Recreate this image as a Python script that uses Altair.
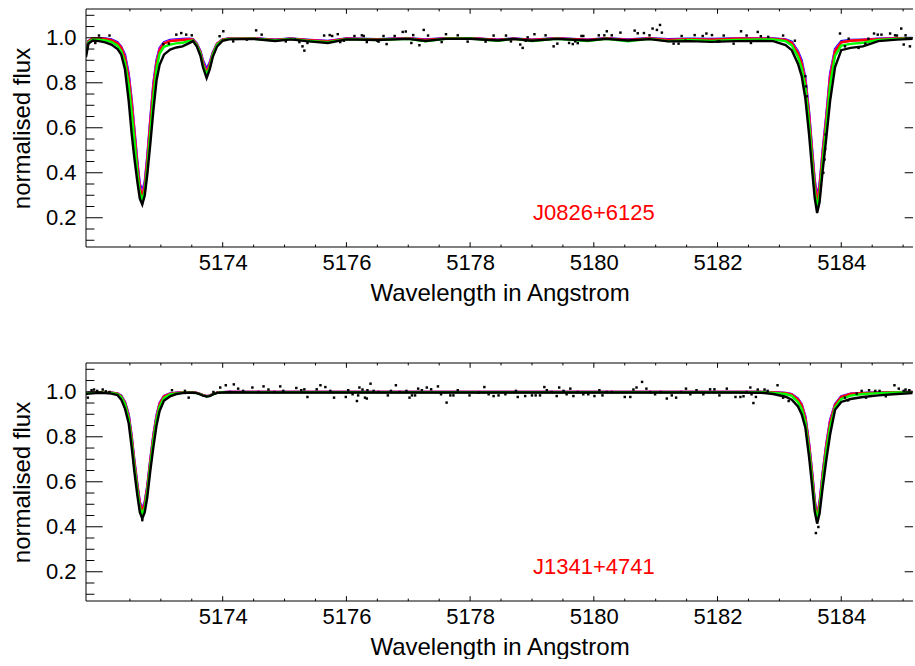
import altair as alt
import pandas as pd

FONT = "Liberation Sans"

# ---------------- data ----------------
WAVE = [5171.79, 5171.83, 5171.90, 5172.00, 5172.10, 5172.20, 5172.30, 5172.36, 5172.42, 5172.48,
        5172.53, 5172.57, 5172.62, 5172.66, 5172.70, 5172.74, 5172.78, 5172.83, 5172.88, 5172.93,
        5172.98, 5173.05, 5173.15, 5173.25, 5173.35, 5173.45, 5173.52, 5173.58, 5173.64, 5173.68,
        5173.74, 5173.79, 5173.84, 5173.91, 5174.00, 5174.10,
        5174.50, 5174.85, 5175.10, 5175.35, 5175.70, 5176.00, 5176.50, 5177.00, 5177.28, 5177.60,
        5178.00, 5178.45, 5178.70, 5179.00, 5179.40, 5179.90, 5180.20, 5180.55, 5180.90, 5181.20,
        5181.55, 5181.90, 5182.30, 5182.70,
        5182.90, 5183.10, 5183.20, 5183.30, 5183.36, 5183.42, 5183.48, 5183.53, 5183.57, 5183.61,
        5183.65, 5183.70, 5183.76, 5183.82, 5183.90, 5184.00, 5184.15, 5184.35, 5184.60, 5184.90,
        5185.15]

# --- J0826+6125 (top panel) model spectra ---
TOP_BLUE = [0.930, 0.985, 0.998, 0.998, 0.997, 0.993, 0.980, 0.960, 0.925, 0.840,
            0.720, 0.600, 0.450, 0.350, 0.318, 0.360, 0.470, 0.640, 0.800, 0.900,
            0.955, 0.980, 0.990, 0.993, 0.995, 0.996, 0.994, 0.975, 0.940, 0.900,
            0.861, 0.890, 0.935, 0.975, 0.993, 0.997,
            0.998, 0.992, 0.997, 0.992, 0.986, 0.997, 0.994, 0.998, 0.993, 0.998,
            0.998, 0.992, 0.997, 0.992, 0.998, 0.992, 0.998, 0.993, 0.998, 0.994,
            0.996, 0.995, 0.997, 0.998,
            0.997, 0.993, 0.982, 0.940, 0.900, 0.820, 0.670, 0.500, 0.370, 0.290,
            0.350, 0.500, 0.660, 0.840, 0.950, 0.985, 0.990, 0.992, 0.996, 0.998,
            0.999]
TOP_RED = [0.930, 0.985, 0.997, 0.997, 0.995, 0.990, 0.975, 0.955, 0.910, 0.820,
           0.700, 0.580, 0.430, 0.330, 0.296, 0.340, 0.450, 0.620, 0.780, 0.885,
           0.945, 0.975, 0.985, 0.988, 0.990, 0.993, 0.992, 0.972, 0.935, 0.890,
           0.845, 0.880, 0.930, 0.973, 0.992, 0.996,
           0.997, 0.990, 0.996, 0.990, 0.984, 0.996, 0.993, 0.997, 0.990, 0.997,
           0.998, 0.990, 0.996, 0.990, 0.997, 0.990, 0.997, 0.990, 0.997, 0.990,
           0.994, 0.992, 0.996, 0.996,
           0.995, 0.990, 0.977, 0.930, 0.885, 0.800, 0.650, 0.480, 0.350, 0.266,
           0.330, 0.480, 0.640, 0.820, 0.940, 0.980, 0.987, 0.990, 0.994, 0.997,
           0.998]
TOP_MAGENTA = [0.930, 0.985, 0.997, 0.997, 0.995, 0.990, 0.977, 0.957, 0.915, 0.830,
               0.710, 0.590, 0.440, 0.340, 0.307, 0.350, 0.460, 0.630, 0.790, 0.890,
               0.950, 0.977, 0.987, 0.990, 0.992, 0.994, 0.992, 0.973, 0.937, 0.895,
               0.850, 0.885, 0.932, 0.974, 0.992, 0.996,
               0.997, 0.990, 0.996, 0.990, 0.985, 0.996, 0.993, 0.997, 0.990, 0.997,
               0.998, 0.990, 0.996, 0.990, 0.997, 0.990, 0.997, 0.990, 0.997, 0.990,
               0.994, 0.992, 0.996, 0.997,
               0.996, 0.990, 0.978, 0.935, 0.890, 0.810, 0.660, 0.490, 0.360, 0.278,
               0.340, 0.490, 0.650, 0.830, 0.945, 0.980, 0.988, 0.990, 0.995, 0.997,
               0.998]
TOP_GREEN = [0.925, 0.980, 0.993, 0.992, 0.988, 0.982, 0.965, 0.940, 0.890, 0.790,
             0.660, 0.550, 0.400, 0.310, 0.278, 0.320, 0.420, 0.580, 0.740, 0.860,
             0.930, 0.960, 0.970, 0.975, 0.978, 0.985, 0.988, 0.968, 0.930, 0.880,
             0.835, 0.870, 0.925, 0.970, 0.990, 0.995,
             0.996, 0.988, 0.995, 0.987, 0.980, 0.994, 0.990, 0.996, 0.985, 0.996,
             0.997, 0.987, 0.995, 0.986, 0.996, 0.985, 0.996, 0.985, 0.995, 0.985,
             0.990, 0.986, 0.990, 0.993,
             0.993, 0.985, 0.967, 0.915, 0.865, 0.780, 0.620, 0.450, 0.320, 0.244,
             0.300, 0.450, 0.610, 0.790, 0.920, 0.965, 0.973, 0.978, 0.990, 0.995,
             0.997]
TOP_BLACK = [0.915, 0.975, 0.988, 0.985, 0.980, 0.970, 0.950, 0.925, 0.860, 0.720,
             0.570, 0.470, 0.360, 0.285, 0.259, 0.300, 0.390, 0.530, 0.680, 0.810,
             0.880, 0.925, 0.948, 0.957, 0.962, 0.975, 0.985, 0.962, 0.920, 0.870,
             0.821, 0.860, 0.915, 0.962, 0.987, 0.993,
             0.995, 0.986, 0.993, 0.985, 0.977, 0.993, 0.990, 0.995, 0.986, 0.995,
             0.996, 0.988, 0.995, 0.987, 0.995, 0.988, 0.995, 0.988, 0.994, 0.984,
             0.985, 0.982, 0.985, 0.986,
             0.985, 0.968, 0.945, 0.885, 0.830, 0.730, 0.570, 0.410, 0.290, 0.221,
             0.270, 0.410, 0.560, 0.720, 0.870, 0.945, 0.955, 0.962, 0.985, 0.992,
             0.995]

# --- J1341+4741 (bottom panel) model spectra ---
BOT_BLUE = [0.993, 0.995, 0.996, 0.997, 0.997, 0.996, 0.993, 0.983, 0.955, 0.900,
            0.800, 0.700, 0.590, 0.510, 0.480, 0.510, 0.580, 0.700, 0.810, 0.895,
            0.950, 0.982, 0.993, 0.996, 0.997, 0.998, 0.997, 0.995, 0.990, 0.985,
            0.981, 0.983, 0.990, 0.996, 0.998, 0.999,
            0.999, 0.999, 0.999, 0.999, 0.999, 0.999, 0.999, 0.999, 0.999, 0.999,
            0.999, 0.999, 0.999, 0.999, 0.999, 0.999, 0.999, 0.999, 0.999, 0.999,
            0.999, 0.999, 0.999, 0.999,
            0.998, 0.995, 0.990, 0.970, 0.945, 0.890, 0.770, 0.640, 0.520, 0.445,
            0.510, 0.640, 0.770, 0.875, 0.945, 0.980, 0.992, 0.995, 0.997, 0.998,
            0.999]
BOT_RED = [0.993, 0.995, 0.996, 0.997, 0.997, 0.996, 0.992, 0.980, 0.950, 0.890,
           0.790, 0.690, 0.580, 0.500, 0.470, 0.500, 0.570, 0.690, 0.800, 0.885,
           0.945, 0.979, 0.991, 0.995, 0.997, 0.997, 0.997, 0.995, 0.990, 0.985,
           0.981, 0.983, 0.990, 0.996, 0.998, 0.999,
           0.999, 0.999, 0.999, 0.999, 0.999, 0.999, 0.999, 0.999, 0.999, 0.999,
           0.999, 0.999, 0.999, 0.999, 0.999, 0.999, 0.999, 0.999, 0.999, 0.999,
           0.999, 0.999, 0.999, 0.999,
           0.997, 0.994, 0.988, 0.965, 0.940, 0.880, 0.760, 0.630, 0.510, 0.440,
           0.500, 0.630, 0.760, 0.865, 0.940, 0.977, 0.990, 0.994, 0.996, 0.998,
           0.999]
BOT_MAGENTA = [0.993, 0.995, 0.996, 0.997, 0.997, 0.996, 0.992, 0.981, 0.952, 0.895,
               0.795, 0.695, 0.585, 0.505, 0.475, 0.505, 0.575, 0.695, 0.805, 0.890,
               0.947, 0.980, 0.992, 0.995, 0.997, 0.997, 0.997, 0.995, 0.990, 0.985,
               0.981, 0.983, 0.990, 0.996, 0.998, 0.999,
               0.999, 0.999, 0.999, 0.999, 0.999, 0.999, 0.999, 0.999, 0.999, 0.999,
               0.999, 0.999, 0.999, 0.999, 0.999, 0.999, 0.999, 0.999, 0.999, 0.999,
               0.999, 0.999, 0.999, 0.999,
               0.997, 0.994, 0.989, 0.967, 0.942, 0.885, 0.765, 0.635, 0.515, 0.442,
               0.505, 0.635, 0.765, 0.870, 0.942, 0.978, 0.990, 0.994, 0.996, 0.998,
               0.999]
BOT_GREEN = [0.992, 0.994, 0.995, 0.996, 0.996, 0.995, 0.990, 0.977, 0.945, 0.880,
             0.775, 0.675, 0.565, 0.485, 0.455, 0.485, 0.555, 0.675, 0.785, 0.875,
             0.935, 0.972, 0.988, 0.993, 0.996, 0.996, 0.996, 0.994, 0.989, 0.984,
             0.980, 0.982, 0.989, 0.995, 0.998, 0.998,
             0.998, 0.998, 0.998, 0.998, 0.998, 0.998, 0.998, 0.998, 0.998, 0.998,
             0.998, 0.998, 0.998, 0.998, 0.998, 0.998, 0.998, 0.998, 0.998, 0.998,
             0.998, 0.998, 0.998, 0.998,
             0.995, 0.990, 0.982, 0.955, 0.925, 0.865, 0.740, 0.610, 0.495, 0.430,
             0.485, 0.610, 0.740, 0.845, 0.930, 0.968, 0.983, 0.990, 0.994, 0.997,
             0.998]
BOT_BLACK = [0.990, 0.992, 0.993, 0.995, 0.994, 0.992, 0.985, 0.965, 0.925, 0.860,
             0.750, 0.650, 0.540, 0.465, 0.436, 0.465, 0.530, 0.650, 0.755, 0.850,
             0.915, 0.960, 0.980, 0.990, 0.994, 0.996, 0.996, 0.994, 0.988, 0.983,
             0.979, 0.981, 0.988, 0.995, 0.997, 0.998,
             0.997, 0.997, 0.997, 0.997, 0.997, 0.997, 0.997, 0.997, 0.997, 0.997,
             0.997, 0.997, 0.997, 0.997, 0.997, 0.997, 0.997, 0.997, 0.997, 0.997,
             0.997, 0.997, 0.997, 0.996,
             0.990, 0.978, 0.965, 0.935, 0.900, 0.840, 0.710, 0.580, 0.470, 0.414,
             0.460, 0.575, 0.700, 0.810, 0.920, 0.955, 0.968, 0.977, 0.984, 0.990,
             0.994]

# --- observed spectra (dots) ---
TOP_OBS_W = [5171.94, 5172.00, 5172.17, 5173.04, 5173.13, 5173.25, 5173.33, 5173.41, 5173.50, 5173.95,
             5174.01, 5174.17, 5174.39, 5174.54, 5174.63, 5175.02, 5175.17, 5175.24, 5175.29, 5175.32,
             5175.37, 5175.64, 5175.73, 5175.77, 5175.86, 5175.90, 5175.96, 5176.13, 5176.25, 5176.28,
             5176.33, 5176.50, 5176.52, 5176.60, 5176.65, 5176.78, 5176.91, 5176.96, 5177.05, 5177.08,
             5177.18, 5177.25, 5177.32, 5177.54, 5177.61, 5177.80, 5177.96, 5178.25, 5178.38, 5178.58,
             5178.66, 5178.81, 5178.85, 5178.90, 5178.93, 5179.04, 5179.22, 5179.35, 5179.41, 5179.60,
             5179.66, 5179.70, 5179.74, 5179.80, 5179.83, 5180.08, 5180.17, 5180.21, 5180.29, 5180.43,
             5180.66, 5180.71, 5180.81, 5180.90, 5180.95, 5181.02, 5181.07, 5181.10, 5181.29, 5181.37,
             5181.42, 5181.48, 5181.63, 5181.76, 5181.82, 5181.91, 5182.00, 5182.03, 5182.10, 5182.26,
             5182.38, 5182.47, 5182.54, 5182.65, 5182.70, 5182.82, 5183.06, 5183.25, 5183.42, 5183.43,
             5183.44, 5183.71, 5183.73, 5183.74, 5183.75, 5183.98, 5184.06, 5184.12, 5184.28, 5184.39,
             5184.44, 5184.53, 5184.59, 5184.65, 5184.79, 5184.87, 5184.90, 5184.97, 5185.01, 5185.04,
             5185.11]
TOP_OBS_F = [0.977, 1.010, 1.010, 0.972, 0.974, 1.014, 1.021, 1.014, 1.011, 1.007,
             1.029, 0.984, 0.992, 1.033, 1.014, 0.984, 0.992, 0.981, 0.962, 0.943,
             0.977, 1.010, 1.012, 1.008, 1.016, 0.981, 0.987, 1.008, 1.011, 1.008,
             0.981, 0.987, 0.983, 1.008, 0.972, 1.008, 1.026, 1.028, 0.977, 1.012,
             0.967, 1.035, 1.010, 0.981, 1.016, 1.011, 0.983, 0.983, 1.010, 1.010,
             0.984, 0.970, 0.955, 0.987, 1.002, 1.016, 1.011, 0.962, 0.974, 0.977,
             0.972, 0.984, 0.976, 1.008, 1.008, 1.011, 1.011, 1.029, 1.011, 1.023,
             1.032, 1.020, 1.021, 1.011, 1.041, 1.035, 1.057, 1.023, 0.974, 0.974,
             1.008, 0.987, 1.012, 1.008, 1.019, 1.012, 0.983, 0.984, 1.010, 0.974,
             1.029, 1.010, 0.977, 1.026, 1.007, 1.004, 1.010, 0.987, 0.829, 0.784,
             0.740, 0.400, 0.459, 0.506, 0.570, 1.019, 0.962, 0.996, 0.955, 0.974,
             0.996, 1.019, 1.014, 1.014, 1.019, 1.011, 1.010, 1.041, 0.970, 1.011,
             0.962]

BOT_OBS_W = [5171.82, 5171.88, 5171.92, 5171.97, 5172.06, 5172.11, 5172.17, 5172.70, 5173.18, 5173.39,
             5173.45, 5173.85, 5173.96, 5174.05, 5174.12, 5174.18, 5174.25, 5174.33, 5174.48, 5174.58,
             5174.66, 5174.74, 5174.84, 5174.93, 5174.98, 5175.19, 5175.27, 5175.32, 5175.37, 5175.52,
             5175.58, 5175.66, 5175.74, 5175.80, 5175.99, 5176.03, 5176.10, 5176.17, 5176.19, 5176.21,
             5176.26, 5176.30, 5176.33, 5176.34, 5176.39, 5176.44, 5176.52, 5176.67, 5176.72, 5176.80,
             5176.86, 5176.97, 5177.02, 5177.06, 5177.11, 5177.16, 5177.22, 5177.30, 5177.37, 5177.48,
             5177.53, 5177.62, 5177.68, 5177.73, 5177.80, 5177.99, 5178.14, 5178.23, 5178.30, 5178.38,
             5178.46, 5178.57, 5178.74, 5178.77, 5178.89, 5179.00, 5179.06, 5179.13, 5179.20, 5179.24,
             5179.32, 5179.40, 5179.44, 5179.51, 5179.56, 5179.62, 5179.67, 5179.74, 5179.83, 5179.91,
             5180.01, 5180.09, 5180.14, 5180.21, 5180.29, 5180.50, 5180.59, 5180.64, 5180.69, 5180.78,
             5180.85, 5180.91, 5180.99, 5181.08, 5181.18, 5181.26, 5181.33, 5181.41, 5181.49, 5181.56,
             5181.66, 5181.77, 5181.88, 5181.95, 5182.03, 5182.15, 5182.29, 5182.37, 5182.42, 5182.47,
             5182.53, 5182.55, 5182.58, 5182.62, 5182.65, 5182.76, 5182.81, 5182.97, 5183.06, 5183.15,
             5183.59, 5183.63, 5184.06, 5184.11, 5184.25, 5184.33, 5184.40, 5184.45, 5184.55, 5184.62,
             5184.72, 5184.86, 5184.93, 5185.01, 5185.04, 5185.10]
BOT_OBS_F = [0.974, 1.007, 1.010, 1.004, 1.010, 1.002, 0.999, 0.430, 1.007, 1.004,
             0.974, 0.999, 1.019, 1.029, 0.999, 1.033, 1.014, 1.004, 1.019, 0.999,
             1.024, 1.010, 0.999, 1.024, 1.004, 1.017, 1.007, 1.011, 0.977, 1.011,
             1.029, 1.021, 1.004, 0.974, 0.977, 1.007, 0.989, 0.959, 0.984, 1.019,
             1.010, 0.974, 0.970, 1.007, 1.036, 1.004, 0.999, 0.984, 1.004, 1.029,
             0.999, 1.004, 0.974, 0.984, 0.984, 1.014, 1.007, 1.019, 1.011, 1.024,
             0.989, 0.952, 0.984, 0.984, 1.007, 0.984, 0.996, 1.021, 0.989, 0.981,
             0.984, 0.989, 1.004, 0.977, 0.981, 0.984, 0.984, 0.984, 1.021, 1.007,
             0.999, 0.981, 1.019, 1.004, 0.989, 1.014, 0.981, 0.999, 0.989, 0.989,
             0.981, 1.007, 0.984, 0.999, 0.999, 0.977, 0.977, 1.010, 1.019, 1.044,
             1.014, 0.999, 0.989, 0.999, 0.970, 0.984, 0.974, 0.999, 1.014, 0.989,
             1.007, 0.989, 1.011, 1.011, 0.984, 1.014, 0.977, 0.977, 0.980, 0.999,
             1.019, 0.989, 0.950, 0.977, 1.010, 1.010, 1.004, 1.029, 0.974, 0.959,
             0.372, 0.399, 0.974, 0.962, 0.992, 1.004, 0.974, 1.007, 1.004, 1.004,
             0.980, 1.029, 1.014, 1.004, 1.010, 1.007]

LABELS = ["J0826+6125", "J1341+4741"]
LABEL_WAVE = [5180.0, 5180.0]
LABEL_FLUX = [0.22, 0.22]

X_MAJOR = [5174, 5176, 5178, 5180, 5182, 5184]
X_MINOR = [5172.5, 5173.0, 5173.5, 5174.5, 5175.0, 5175.5, 5176.5, 5177.0, 5177.5,
           5178.5, 5179.0, 5179.5, 5180.5, 5181.0, 5181.5, 5182.5, 5183.0, 5183.5,
           5184.5, 5185.0]
Y_MAJOR = [0.2, 0.4, 0.6, 0.8, 1.0]
Y_MINOR = [0.10, 0.15, 0.25, 0.30, 0.35, 0.45, 0.50, 0.55, 0.65, 0.70, 0.75,
           0.85, 0.90, 0.95, 1.05, 1.10]

MODEL_ORDER = ["blue", "magenta", "red", "green", "black"]
MODEL_COLORS = {"blue": "#0000ff", "magenta": "#ff00ff", "red": "#ff0000",
                "green": "#00ff00", "black": "#000000"}

TOP_MODELS = {"blue": TOP_BLUE, "red": TOP_RED, "magenta": TOP_MAGENTA,
              "green": TOP_GREEN, "black": TOP_BLACK}
BOT_MODELS = {"blue": BOT_BLUE, "red": BOT_RED, "magenta": BOT_MAGENTA,
              "green": BOT_GREEN, "black": BOT_BLACK}

# ---------------- layout ----------------
XDOM = [5171.79, 5185.16]
YDOM = [0.07, 1.128]
W, H = 827, 238
YTICK_MAJ, YTICK_MIN = 16.7, 8.4
XTICK_MAJ, XTICK_MIN = 4.8, 2.4

XS = alt.Scale(domain=XDOM, nice=False, zero=False)
YS = alt.Scale(domain=YDOM, nice=False, zero=False)
XAXIS = alt.Axis(values=X_MAJOR, format="d", ticks=False, domain=False, grid=False,
                 labelFont=FONT, labelFontSize=22, labelColor="black", labelPadding=5,
                 title="Wavelength in Angstrom", titleFont=FONT, titleFontSize=24,
                 titleFontWeight="normal", titleColor="black", titlePadding=8)
YAXIS = alt.Axis(values=Y_MAJOR, format=".1f", ticks=False, domain=False, grid=False,
                 labelFont=FONT, labelFontSize=22, labelColor="black", labelPadding=10,
                 title="normalised flux", titleFont=FONT, titleFontSize=24,
                 titleFontWeight="normal", titleColor="black", titlePadding=11)


def xenc():
    return alt.X("wave:Q", scale=XS, axis=XAXIS)


def yenc():
    return alt.Y("flux:Q", scale=YS, axis=YAXIS)


def panel(models, obs_w, obs_f, idx):
    layers = []
    for name in MODEL_ORDER:
        df = pd.DataFrame({"wave": WAVE, "flux": models[name]})
        layers.append(
            alt.Chart(df).mark_line(color=MODEL_COLORS[name], strokeWidth=2.4, clip=True)
            .encode(x=xenc(), y=yenc())
        )
    obs = pd.DataFrame({"wave": obs_w, "flux": obs_f})
    layers.append(
        alt.Chart(obs).mark_square(size=6, color="black", opacity=1, clip=True)
        .encode(x=xenc(), y=yenc())
    )
    lab = pd.DataFrame({"wave": [LABEL_WAVE[idx]], "flux": [LABEL_FLUX[idx]], "txt": [LABELS[idx]]})
    layers.append(
        alt.Chart(lab).mark_text(color="#ff0000", font=FONT, fontSize=22, align="center",
                                 baseline="middle")
        .encode(x=xenc(), y=yenc(), text="txt:N")
    )
    # tick marks (IDL style, pointing inward)
    ymaj = pd.DataFrame({"flux": Y_MAJOR})
    ymin = pd.DataFrame({"flux": Y_MINOR})
    xmaj = pd.DataFrame({"wave": X_MAJOR})
    xmin = pd.DataFrame({"wave": X_MINOR})
    for d, L in ((ymaj, YTICK_MAJ), (ymin, YTICK_MIN)):
        layers.append(alt.Chart(d).mark_rule(color="black", strokeWidth=1).encode(
            y=yenc(), x=alt.value(0), x2=alt.value(L)))
    layers.append(alt.Chart(ymaj).mark_rule(color="black", strokeWidth=1).encode(
        y=yenc(), x=alt.value(W - 8.3), x2=alt.value(W)))
    for d, L in ((xmaj, XTICK_MAJ), (xmin, XTICK_MIN)):
        layers.append(alt.Chart(d).mark_rule(color="black", strokeWidth=1).encode(
            x=xenc(), y=alt.value(0), y2=alt.value(L)))
        layers.append(alt.Chart(d).mark_rule(color="black", strokeWidth=1).encode(
            x=xenc(), y=alt.value(H - L), y2=alt.value(H)))
    # frame (left, top, bottom)
    one = pd.DataFrame({"k": [0]})
    layers.append(alt.Chart(one).mark_rule(color="black", strokeWidth=1).encode(
        x=alt.value(0), y=alt.value(0), y2=alt.value(H)))
    layers.append(alt.Chart(one).mark_rule(color="black", strokeWidth=1).encode(
        x=alt.value(0), x2=alt.value(W), y=alt.value(0)))
    layers.append(alt.Chart(one).mark_rule(color="black", strokeWidth=1).encode(
        x=alt.value(0), x2=alt.value(W), y=alt.value(H)))
    return alt.layer(*layers).properties(width=W, height=H)


top = panel(TOP_MODELS, TOP_OBS_W, TOP_OBS_F, 0)
bottom = panel(BOT_MODELS, BOT_OBS_W, BOT_OBS_F, 1)

chart = alt.vconcat(top, bottom, spacing=57).properties(
    padding={"left": 10, "top": 8, "right": 0, "bottom": 0},
    background="white",
).configure_view(stroke=None)

chart.save("out.html", embed_options={"renderer": "svg", "actions": False})
